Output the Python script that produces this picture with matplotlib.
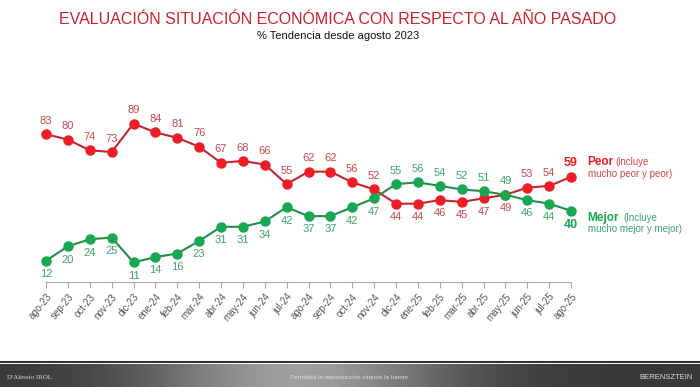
import matplotlib.pyplot as plt
import numpy as np

# Data
months = ["ago-23", "sep-23", "oct-23", "nov-23", "dic-23", "ene-24", "feb-24", "mar-24",
          "abr-24", "may-24", "jun-24", "jul-24", "ago-24", "sep-24", "oct-24", "nov-24",
          "dic-24", "ene-25", "feb-25", "mar-25", "abr-25", "may-25", "jun-25", "jul-25", "ago-25"]
peor = [83, 80, 74, 73, 89, 84, 81, 76, 67, 68, 66, 55, 62, 62, 56, 52,
        44, 44, 46, 45, 47, 49, 53, 54, 59]
mejor = [12, 20, 24, 25, 11, 14, 16, 23, 31, 31, 34, 42, 37, 37, 42, 47,
         55, 56, 54, 52, 51, 49, 46, 44, 40]

RED_LINE = "#c8242b"
RED_MARK = "#ee1c25"
RED_TXT = "#c9474a"
GREEN_LINE = "#1f8f4a"
GREEN_MARK = "#17a651"
GREEN_TXT = "#3aa568"

plt.rcParams['font.family'] = ['Liberation Sans', 'DejaVu Sans']

fig = plt.figure(figsize=(7, 3.87), dpi=100)
ax = fig.add_axes([46 / 700, 105 / 387, 525 / 700, 178 / 387])

x = np.arange(len(months))
ax.plot(x, peor, color=RED_LINE, lw=1.5, marker="o", ms=6.5, clip_on=False,
        markerfacecolor=RED_MARK, markeredgecolor=RED_MARK, zorder=3)
ax.plot(x, mejor, color=GREEN_LINE, lw=1.5, marker="o", ms=6.5, clip_on=False,
        markerfacecolor=GREEN_MARK, markeredgecolor=GREEN_MARK, zorder=3)

last = len(months) - 1
for i, (p, m) in enumerate(zip(peor, mejor)):
    # Peor above, except in the stretch where Mejor leads
    peor_up = not (16 <= i <= 21)
    w = "bold" if i == last else "normal"
    pc = RED_MARK if i == last else RED_TXT
    gc = GREEN_MARK if i == last else GREEN_TXT
    fs = 9 if i == last else 8
    if peor_up:
        ax.annotate(str(p), (i, p), xytext=(0, 6), textcoords="offset points",
                    ha="center", va="bottom", color=pc, fontsize=fs, fontweight=w)
        ax.annotate(str(m), (i, m), xytext=(0, -6), textcoords="offset points",
                    ha="center", va="top", color=gc, fontsize=fs, fontweight=w)
    else:
        ax.annotate(str(p), (i, p), xytext=(0, -6), textcoords="offset points",
                    ha="center", va="top", color=pc, fontsize=fs, fontweight=w)
        ax.annotate(str(m), (i, m), xytext=(0, 6), textcoords="offset points",
                    ha="center", va="bottom", color=gc, fontsize=fs, fontweight=w)

# Series legends at the right
ax.annotate("Peor", (last, peor[-1]), xytext=(12, 10.5), textcoords="offset points",
            ha="left", va="center", color=RED_MARK, fontsize=8.5, fontweight="bold",
            annotation_clip=False)
ax.annotate("(incluye", (last, peor[-1]), xytext=(32, 10.5), textcoords="offset points",
            ha="left", va="center", color=RED_TXT, fontsize=7, annotation_clip=False)
ax.annotate("mucho peor y peor)", (last, peor[-1]), xytext=(12, 2.5), textcoords="offset points",
            ha="left", va="center", color=RED_TXT, fontsize=7, annotation_clip=False)
ax.annotate("Mejor", (last, mejor[-1]), xytext=(12, -5), textcoords="offset points",
            ha="left", va="center", color=GREEN_MARK, fontsize=8.5, fontweight="bold",
            annotation_clip=False)
ax.annotate("(Incluye", (last, mejor[-1]), xytext=(38, -5), textcoords="offset points",
            ha="left", va="center", color=GREEN_TXT, fontsize=7, annotation_clip=False)
ax.annotate("mucho mejor y mejor)", (last, mejor[-1]), xytext=(12, -13),
            textcoords="offset points", ha="left", va="center", color=GREEN_TXT,
            fontsize=7, annotation_clip=False)

ax.set_xlim(0, last)
ax.set_ylim(0, 100)
ax.set_xticks(x)
ax.set_xticklabels(months, rotation=50, ha="right", rotation_mode="anchor",
                   fontsize=7, color="#555555")
ax.tick_params(axis="x", length=4, color="#aaaaaa", pad=3)
ax.set_yticks([])
for s in ["top", "right", "left"]:
    ax.spines[s].set_visible(False)
ax.spines["bottom"].set_color("#aaaaaa")
ax.patch.set_alpha(0)

fig.text(338 / 700, 1 - 19 / 387, "EVALUACIÓN SITUACIÓN ECONÓMICA CON RESPECTO AL AÑO PASADO",
         ha="center", va="center", color="#d0202a", fontsize=11.5)
fig.text(338 / 700, 1 - 36 / 387, "% Tendencia desde agosto 2023",
         ha="center", va="center", color="#111111", fontsize=8)

# Footer bar
fax = fig.add_axes([0, 0, 1, 23 / 387])
xs = np.linspace(-1, 1, 256)
grad = np.vstack([0.22 + 0.4 * np.exp(-((xs + 0.15) ** 2) * 5)] * 2)
fax.imshow(grad, aspect="auto", cmap="gray", vmin=0, vmax=1, extent=[0, 1, 0, 1])
fax.set_xlim(0, 1)
fax.set_ylim(0, 1)
fax.axis("off")
fax.text(0.01, 0.4, "D'Alessio IROL", color="#dddddd", fontsize=5, va="center",
         family="Liberation Serif")
fax.text(0.5, 0.4, "Permitida la reproducción citando la fuente.", color="#dddddd",
         fontsize=4.5, ha="center", va="center")
fax.text(0.99, 0.4, "BERENSZTEIN", color="#dddddd", fontsize=5.5, ha="right", va="center")
fig.add_artist(plt.Line2D([0, 1], [25 / 387, 25 / 387], color="#333333", lw=1.5))

fig.savefig("out.png", dpi=100)
